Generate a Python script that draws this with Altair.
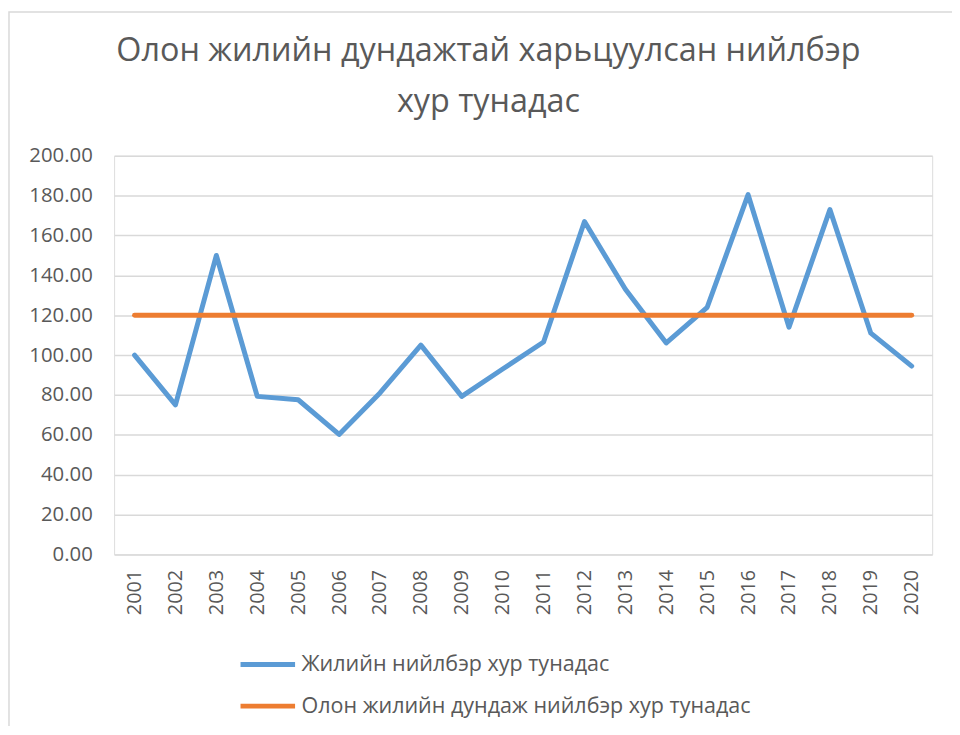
import altair as alt
import pandas as pd

years = [str(y) for y in range(2001, 2021)]
annual = [100.0, 75.0, 150.0, 79.3, 77.6, 60.2, 81.0, 105.0, 79.3, 93.0,
          106.6, 167.0, 133.0, 106.1, 124.0, 180.5, 114.0, 173.0, 111.0, 94.5]
longterm = [120.0] * 20
series_names = ["Жилийн нийлбэр хур тунадас", "Олон жилийн дундаж нийлбэр хур тунадас"]
colors = ["#5B9BD5", "#ED7D31"]
title_lines = ["Олон жилийн дундажтай харьцуулсан нийлбэр", "хур тунадас"]

rows = []
for y, a, m in zip(years, annual, longterm):
    rows.append({"year": y, "value": a, "series": series_names[0]})
    rows.append({"year": y, "value": m, "series": series_names[1]})
df = pd.DataFrame(rows)

FONT = "Open Sans"
GRAY = "#595959"

frame = alt.Chart(pd.DataFrame({"a": [0]})).mark_rect(
    fill=None, stroke="#D9D9D9", strokeWidth=1.5, clip=False
).encode(x=alt.value(-106), x2=alt.value(900), y=alt.value(-145), y2=alt.value(700))

lines = alt.Chart(df).mark_line(strokeWidth=5, strokeCap="round", strokeJoin="round").encode(
    x=alt.X("year:O", scale=alt.Scale(type="point", padding=0.5),
            axis=alt.Axis(title=None, labelAngle=-90, labelFontSize=20, labelColor=GRAY,
                          labelFont=FONT, ticks=False, domain=False, labelPadding=15,
                          grid=False)),
    y=alt.Y("value:Q", scale=alt.Scale(domain=[0, 200], nice=False),
            axis=alt.Axis(title=None, values=list(range(0, 201, 20)), format=".2f",
                          labelFontSize=20.5, labelColor=GRAY, labelFont=FONT, ticks=False,
                          domain=False, labelPadding=22, grid=True, gridColor="#D9D9D9",
                          gridWidth=1.5)),
    color=alt.Color("series:N", scale=alt.Scale(domain=series_names, range=colors),
                    sort=series_names,
                    legend=alt.Legend(title=None, orient="none", legendX=125, legendY=483,
                                      direction="vertical", symbolType="stroke",
                                      symbolSize=3025, symbolStrokeWidth=5,
                                      labelFontSize=21.7, labelFont=FONT, labelColor=GRAY,
                                      labelOffset=4, rowPadding=-10, labelLimit=600)),
    order=alt.Order("year:O"),
)

chart = alt.layer(frame, lines).properties(
    width=825, height=402,
    title=alt.TitleParams(text=title_lines, anchor="middle", frame="group", dx=-35,
                          fontSize=32.6, font=FONT, fontWeight="normal", color=GRAY,
                          lineHeight=51, baseline="alphabetic", offset=-134),
    autosize=alt.AutoSizeParams(type="none"),
    padding={"left": 107, "top": 146, "right": 20, "bottom": 170},
).configure_view(stroke=None).configure(background="white")

chart.save("out.html", embed_options={"renderer": "svg", "actions": False})
